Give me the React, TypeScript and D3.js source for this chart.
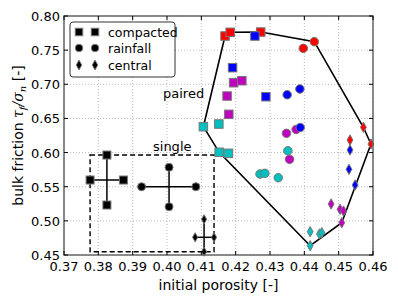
import React from "react";
import * as d3 from "d3";

const xTicks = [0.37, 0.38, 0.39, 0.4, 0.41, 0.42, 0.43, 0.44, 0.45, 0.46];
const yTicks = [0.45, 0.5, 0.55, 0.6, 0.65, 0.7, 0.75, 0.8];

// paired points: [porosity, friction]
const redSquares = [[0.4169, 0.7707], [0.4184, 0.7761], [0.4273, 0.7765]];
const redCircles = [[0.4429, 0.7624], [0.4397, 0.7527]];
const redDiamonds = [[0.4572, 0.637], [0.4594, 0.6125], [0.4533, 0.6184]];
const blueSquares = [[0.4256, 0.7707], [0.4191, 0.7243], [0.4288, 0.6818]];
const blueCircles = [[0.435, 0.6847], [0.4387, 0.6931], [0.4388, 0.6367]];
const blueDiamonds = [[0.4533, 0.6038], [0.453, 0.5755], [0.4548, 0.5525]];
const magentaSquares = [[0.4194, 0.7023], [0.4218, 0.7052], [0.4175, 0.6828], [0.418, 0.656]];
const magentaCircles = [[0.4348, 0.6282], [0.4376, 0.6338], [0.4357, 0.5901]];
const magentaDiamonds = [[0.4478, 0.5247], [0.4504, 0.5169], [0.4514, 0.5144], [0.4509, 0.4973]];
const cyanSquares = [[0.4106, 0.6379], [0.4151, 0.6418], [0.4152, 0.6004], [0.4179, 0.5989]];
const cyanCircles = [[0.4271, 0.5686], [0.4285, 0.5696], [0.4324, 0.5632], [0.4352, 0.6027]];
const cyanDiamonds = [[0.4417, 0.4841], [0.4444, 0.4808], [0.4451, 0.4827], [0.4417, 0.4636]];

// single: mean x, mean y, xmin, xmax, ymin, ymax
const singleCompacted = [0.3825, 0.5598, 0.3776, 0.3873, 0.5232, 0.5964];
const singleRainfall = [0.4006, 0.55, 0.3926, 0.4084, 0.5207, 0.5784];
const singleCentral = [0.4108, 0.4759, 0.4082, 0.4137, 0.4548, 0.5023];

const W = 398, H = 300;
const m = { l: 64, r: 25, t: 16, b: 45 };

const x = d3.scaleLinear().domain([0.37, 0.46]).range([m.l, W - m.r]);
const y = d3.scaleLinear().domain([0.45, 0.8]).range([H - m.b, m.t]);

const font = "DejaVu Sans, sans-serif";
const EDGE = "#777";

function Marker({ shape, cx, cy, fill, stroke, size }: any) {
  if (shape === "s") {
    const s = size;
    return <rect x={cx - s / 2} y={cy - s / 2} width={s} height={s} fill={fill} stroke={stroke} strokeWidth={1} />;
  }
  if (shape === "o") {
    return <circle cx={cx} cy={cy} r={size / 2} fill={fill} stroke={stroke} strokeWidth={1} />;
  }
  const h = size * 1.15, w = size * 0.65;
  const p = `M${cx},${cy - h / 2}L${cx + w / 2},${cy}L${cx},${cy + h / 2}L${cx - w / 2},${cy}Z`;
  return <path d={p} fill={fill} stroke={stroke} strokeWidth={1} />;
}

const groups: [number[][], string, string][] = [
  [redSquares, "s", "#ff0000"],
  [redCircles, "o", "#ff0000"],
  [redDiamonds, "d", "#ff0000"],
  [magentaSquares, "s", "#bf00bf"],
  [magentaCircles, "o", "#bf00bf"],
  [magentaDiamonds, "d", "#bf00bf"],
  [blueSquares, "s", "#0000ff"],
  [blueCircles, "o", "#0000ff"],
  [blueDiamonds, "d", "#0000ff"],
  [cyanSquares, "s", "#00bfbf"],
  [cyanCircles, "o", "#00bfbf"],
  [cyanDiamonds, "d", "#00bfbf"],
];

export default function App() {
  const allPaired = groups.flatMap((g) => g[0].map((p) => [x(p[0]), y(p[1])] as [number, number]));
  const hull = d3.polygonHull(allPaired) || [];
  const hullPath = "M" + hull.map((p) => p.join(",")).join("L") + "Z";

  const singles: [number[], string][] = [
    [singleCompacted, "s"],
    [singleRainfall, "o"],
    [singleCentral, "d"],
  ];
  const bx0 = d3.min(singles, (s) => s[0][2])!;
  const bx1 = d3.max(singles, (s) => s[0][3])!;
  const by0 = d3.min(singles, (s) => s[0][4])!;
  const by1 = d3.max(singles, (s) => s[0][5])!;

  return (
    <svg width={W} height={H} style={{ position: "absolute", left: 0, top: 0, background: "#fff" }}>
      <rect x={0} y={0} width={W} height={H} fill="#fff" />
      {/* grid */}
      {xTicks.map((t) => (
        <line key={"gx" + t} x1={x(t)} x2={x(t)} y1={y(0.45)} y2={y(0.8)} stroke="#aaa" strokeWidth={0.8} strokeDasharray="1,2" />
      ))}
      {yTicks.map((t) => (
        <line key={"gy" + t} x1={x(0.37)} x2={x(0.46)} y1={y(t)} y2={y(t)} stroke="#aaa" strokeWidth={0.8} strokeDasharray="1,2" />
      ))}
      {/* hull */}
      <path d={hullPath} fill="none" stroke="#000" strokeWidth={1.6} />
      {/* dashed box */}
      <rect x={x(bx0)} y={y(by1)} width={x(bx1) - x(bx0)} height={y(by0) - y(by1)} fill="none" stroke="#000" strokeWidth={1.4} strokeDasharray="5,3" />
      {/* single crosses */}
      {singles.map(([s, shape], i) => (
        <g key={"s" + i}>
          <line x1={x(s[2])} x2={x(s[3])} y1={y(s[1])} y2={y(s[1])} stroke="#000" strokeWidth={1.5} />
          <line x1={x(s[0])} x2={x(s[0])} y1={y(s[4])} y2={y(s[5])} stroke="#000" strokeWidth={1.5} />
          {[
            [s[2], s[1]],
            [s[3], s[1]],
            [s[0], s[4]],
            [s[0], s[5]],
          ].map((p, j) => (
            <Marker key={j} shape={shape} cx={x(p[0])} cy={y(p[1])} fill="#000" stroke={EDGE} size={shape === "d" ? 8 : 8} />
          ))}
        </g>
      ))}
      {/* paired markers */}
      {groups.map(([pts, shape, color], gi) =>
        pts.map((p, i) => (
          <Marker key={gi + "-" + i} shape={shape} cx={x(p[0])} cy={y(p[1])} fill={color} stroke={EDGE} size={shape === "d" ? 9 : 8.5} />
        ))
      )}
      {/* texts */}
      <text x={163} y={98} fontFamily={font} fontSize={13}>paired</text>
      <text x={153} y={151} fontFamily={font} fontSize={13}>single</text>
      {/* frame */}
      <rect x={x(0.37)} y={y(0.8)} width={x(0.46) - x(0.37)} height={y(0.45) - y(0.8)} fill="none" stroke="#666" strokeWidth={1.5} />
      {/* ticks */}
      {xTicks.map((t) => (
        <g key={"tx" + t}>
          <line x1={x(t)} x2={x(t)} y1={y(0.45)} y2={y(0.45) - 4} stroke="#000" />
          <line x1={x(t)} x2={x(t)} y1={y(0.8)} y2={y(0.8) + 4} stroke="#000" />
          <text x={x(t)} y={y(0.45) + 16} textAnchor="middle" fontFamily={font} fontSize={13}>{t.toFixed(2)}</text>
        </g>
      ))}
      {yTicks.map((t) => (
        <g key={"ty" + t}>
          <line x1={x(0.37)} x2={x(0.37) + 4} y1={y(t)} y2={y(t)} stroke="#000" />
          <line x1={x(0.46)} x2={x(0.46) - 4} y1={y(t)} y2={y(t)} stroke="#000" />
          <text x={x(0.37) - 4} y={y(t) + 5} textAnchor="end" fontFamily={font} fontSize={13}>{t.toFixed(2)}</text>
        </g>
      ))}
      {/* axis labels */}
      <text x={(x(0.37) + x(0.46)) / 2} y={290} textAnchor="middle" fontFamily={font} fontSize={14}>initial porosity [-]</text>
      <text transform={`translate(23,${(y(0.45) + y(0.8)) / 2}) rotate(-90)`} textAnchor="middle" fontFamily={font} fontSize={14}>
        bulk friction{" "}
        <tspan fontStyle="italic" fontFamily="DejaVu Serif, serif">τ</tspan>
        <tspan fontStyle="italic" fontFamily="DejaVu Serif, serif" fontSize={10} dy={3}>f</tspan>
        <tspan fontStyle="italic" fontFamily="DejaVu Serif, serif" dy={-3}>/σ</tspan>
        <tspan fontStyle="italic" fontFamily="DejaVu Serif, serif" fontSize={10} dy={3}>n</tspan>
        <tspan dy={-3}>{" "}[-]</tspan>
      </text>
      {/* legend */}
      <rect x={70} y={22} width={105} height={55} rx={3} fill="#fff" stroke="#333" strokeWidth={1} />
      {[
        ["s", "compacted", 32],
        ["o", "rainfall", 48],
        ["d", "central", 65],
      ].map(([shape, label, ly]: any) => (
        <g key={label}>
          <Marker shape={shape} cx={79} cy={ly} fill="#000" stroke={EDGE} size={shape === "d" ? 8.5 : 7.5} />
          <Marker shape={shape} cx={95} cy={ly} fill="#000" stroke={EDGE} size={shape === "d" ? 8.5 : 7.5} />
          <text x={108} y={ly + 4.5} fontFamily={font} fontSize={12.5}>{label}</text>
        </g>
      ))}
    </svg>
  );
}
